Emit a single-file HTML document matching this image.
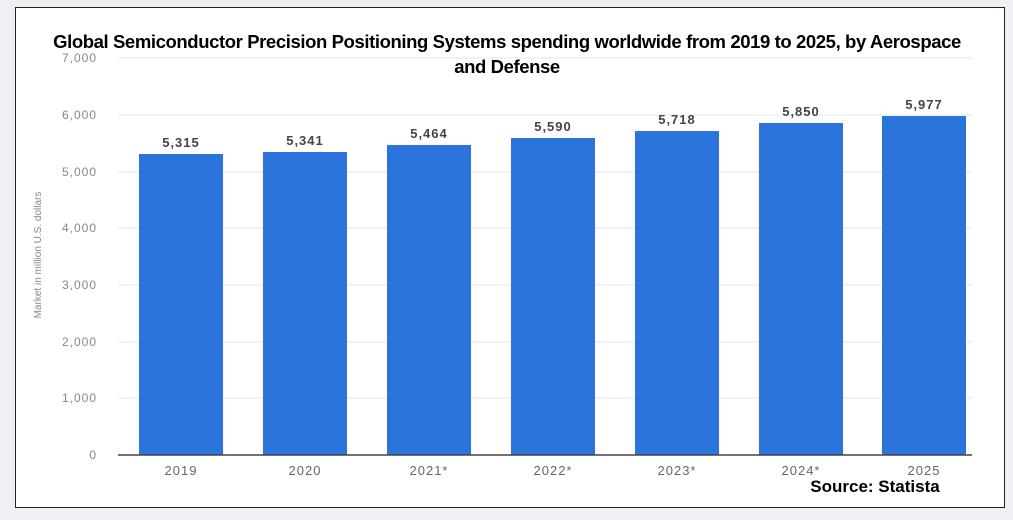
<!DOCTYPE html>
<html><head><style>
body{margin:0;width:1013px;height:520px;background:#eef0f3;overflow:hidden;font-family:"Liberation Sans",sans-serif;}
#f{position:absolute;left:15px;top:7px;width:988px;height:499px;border:1px solid #222;background:#fff;}
</style></head><body>
<div id="f"></div>
<svg width="1013" height="520" style="position:absolute;left:0;top:0">
<g stroke="#e6e6e6" stroke-width="1">
<line x1="118" x2="972" y1="58" y2="58"/><line x1="118" x2="972" y1="115" y2="115"/><line x1="118" x2="972" y1="172" y2="172"/><line x1="118" x2="972" y1="228" y2="228"/><line x1="118" x2="972" y1="285" y2="285"/><line x1="118" x2="972" y1="342" y2="342"/><line x1="118" x2="972" y1="398" y2="398"/>
</g>
<g font-size="12" fill="#888" text-anchor="end" letter-spacing="1">
<text x="97" y="62">7,000</text><text x="97" y="119">6,000</text><text x="97" y="176">5,000</text><text x="97" y="232">4,000</text><text x="97" y="289">3,000</text><text x="97" y="346">2,000</text><text x="97" y="402">1,000</text><text x="97" y="459">0</text>
</g>
<text transform="translate(41,255) rotate(-90)" font-size="10" fill="#888" text-anchor="middle">Market in million U.S. dollars</text>
<g fill="#2a74db">
<rect x="139" y="154" width="84" height="301"/><rect x="263" y="152" width="84" height="303"/><rect x="387" y="145" width="84" height="310"/><rect x="511" y="138" width="84" height="317"/><rect x="635" y="131" width="84" height="324"/><rect x="759" y="123" width="84" height="332"/><rect x="882" y="116" width="84" height="339"/>
</g>
<line x1="118" x2="972" y1="455" y2="455" stroke="#444" stroke-width="1.5"/>
<g font-size="13" fill="#444" text-anchor="middle" font-weight="bold" letter-spacing="1">
<text x="181" y="147">5,315</text><text x="305" y="145">5,341</text><text x="429" y="138">5,464</text><text x="553" y="131">5,590</text><text x="677" y="124">5,718</text><text x="801" y="116">5,850</text><text x="924" y="109">5,977</text>
</g>
<g font-size="13" fill="#666" text-anchor="middle" letter-spacing="1">
<text x="181" y="475">2019</text><text x="305" y="475">2020</text><text x="429" y="475">2021*</text><text x="553" y="475">2022*</text><text x="677" y="475">2023*</text><text x="801" y="475">2024*</text><text x="924" y="475">2025</text>
</g>
<g font-size="18.5" font-weight="bold" fill="#000" text-anchor="middle" letter-spacing="-0.4">
<text x="507" y="48">Global Semiconductor Precision Positioning Systems spending worldwide from 2019 to 2025, by Aerospace</text>
<text x="507" y="73">and Defense</text>
</g>
<text x="875" y="492" font-size="17" font-weight="bold" text-anchor="middle">Source: Statista</text>
</svg>
</body></html>
